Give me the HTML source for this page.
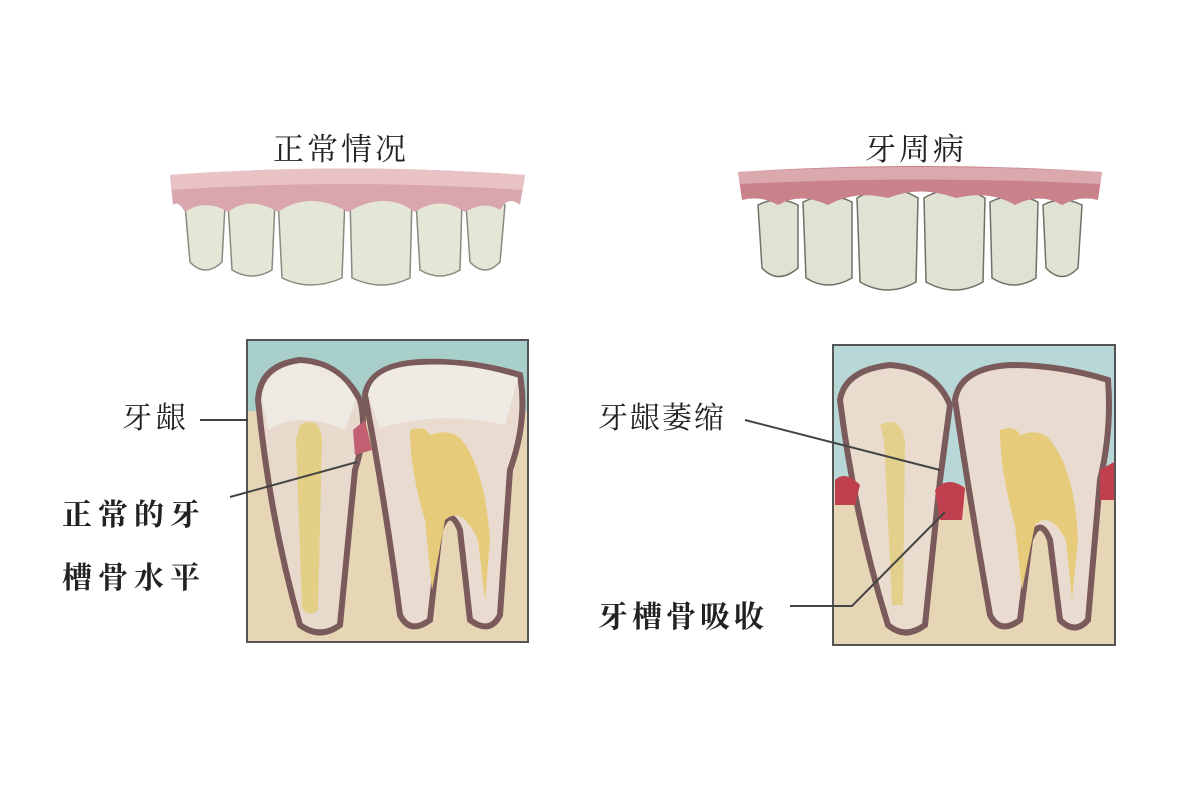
<!DOCTYPE html>
<html><head><meta charset="utf-8"><style>
html,body{margin:0;padding:0;background:#fff;width:1200px;height:800px;overflow:hidden}
text{font-family:"Liberation Serif","Noto Serif CJK SC",serif;fill:#222}
</style></head><body>
<svg width="1200" height="800" viewBox="0 0 1200 800" xmlns="http://www.w3.org/2000/svg">
<!-- titles -->
<text x="273" y="160" font-size="31" letter-spacing="3">正常情况</text>
<text x="865" y="160" font-size="31" letter-spacing="3">牙周病</text>

<!-- upper teeth left -->
<g fill="#e4e6d6" stroke="#8a8a80" stroke-width="1.5">
<path d="M185,205 Q205,195 225,205 L222,262 Q205,278 190,262Z"/>
<path d="M228,202 Q252,190 275,202 L272,270 Q252,282 232,270Z"/>
<path d="M278,198 Q310,180 345,198 L342,278 Q310,292 282,278Z"/>
<path d="M350,198 Q382,180 412,198 L410,278 Q382,292 352,278Z"/>
<path d="M416,202 Q440,190 462,202 L460,270 Q440,282 420,270Z"/>
<path d="M466,205 Q485,195 505,205 L500,262 Q485,278 470,262Z"/>
</g>
<path d="M170,175 Q345,162 525,175 L520,205 Q508,195 500,210 Q485,200 465,212 Q440,195 415,212 Q385,190 348,212 Q310,190 278,212 Q250,195 228,212 Q205,198 185,212 Q178,200 173,205Z" fill="#d9a6ad"/>
<path d="M170,175 Q345,162 525,175 L522,190 Q345,178 172,190Z" fill="#e8c2c4"/>

<!-- upper teeth right -->
<g fill="#e0e3d4" stroke="#707068" stroke-width="1.5">
<path d="M758,205 Q778,195 798,205 L798,268 Q778,285 762,268Z"/>
<path d="M803,202 Q828,190 852,202 L852,278 Q828,292 806,278Z"/>
<path d="M857,198 Q888,180 918,198 L916,282 Q888,298 860,282Z"/>
<path d="M924,198 Q955,180 985,198 L983,282 Q955,298 926,282Z"/>
<path d="M990,202 Q1014,190 1038,202 L1036,278 Q1014,292 992,278Z"/>
<path d="M1043,205 Q1062,195 1082,205 L1078,268 Q1062,285 1046,268Z"/>
</g>
<path d="M738,172 Q920,160 1102,172 L1098,200 Q1080,195 1062,205 Q1040,192 1015,205 Q990,190 956,198 Q920,185 888,198 Q855,190 828,205 Q800,192 778,205 Q760,195 742,200Z" fill="#c9828a"/>
<path d="M738,172 Q920,162 1102,172 L1100,184 Q920,175 740,184Z" fill="#dba8ae"/>

<!-- left box -->
<g>
<rect x="247" y="340" width="281" height="302" fill="#e6d6b6" stroke="#555" stroke-width="2"/>
<rect x="248" y="341" width="279" height="70" fill="#a9cfca"/>
<path d="M258,400 Q260,365 300,360 Q340,362 360,400 Q368,430 355,470 L340,625 Q320,640 300,625 Q270,520 258,400Z" fill="#e7d9cc" stroke="#7a5a5a" stroke-width="6"/>
<path d="M262,400 Q262,370 300,363 Q340,365 356,400 L345,430 Q300,410 268,430Z" fill="#eee9e2"/>
<path d="M300,425 Q320,415 322,440 L318,610 Q308,618 302,608 L296,440Z" fill="#e3cf86"/>
<path d="M365,395 Q370,365 420,362 Q470,360 520,375 Q528,420 510,470 L500,615 Q490,635 470,620 L460,530 Q450,505 440,530 L430,620 Q410,635 400,615 Q385,500 365,395Z" fill="#eadbd0" stroke="#7a5a5a" stroke-width="6"/>
<path d="M368,395 Q372,367 420,365 Q470,362 518,378 L505,425 Q440,410 380,428Z" fill="#efebe4"/>
<path d="M410,430 Q425,425 430,435 Q450,428 462,440 Q485,470 490,540 L485,600 L478,540 Q462,505 445,520 L432,590 L425,520 Q410,470 410,430Z" fill="#e6cc7a"/>
<path d="M353,430 L365,420 L372,450 L355,455Z" fill="#c06070"/>
</g>

<!-- right box -->
<g>
<rect x="833" y="345" width="282" height="300" fill="#e6d6b6" stroke="#555" stroke-width="2"/>
<rect x="834" y="346" width="280" height="140" fill="#b7d8d6"/>
<path d="M840,400 Q845,370 890,365 Q935,368 950,405 L940,480 L925,625 Q905,640 888,625 Q855,520 840,400Z" fill="#e9dccf" stroke="#7a5a5a" stroke-width="6"/>
<path d="M880,425 Q900,415 905,440 L903,605 L892,605 L884,440Z" fill="#e3d08c"/>
<path d="M955,400 Q960,368 1010,365 Q1060,365 1108,380 Q1112,430 1100,480 L1088,620 Q1075,635 1060,620 L1050,540 Q1040,515 1030,540 L1020,620 Q1000,635 990,615 Q970,500 955,400Z" fill="#eadbd0" stroke="#7a5a5a" stroke-width="6"/>
<path d="M1000,430 Q1015,425 1020,435 Q1040,428 1050,440 Q1075,470 1078,540 L1072,600 L1066,540 Q1050,510 1035,525 L1022,590 L1015,525 Q1000,470 1000,430Z" fill="#e6cc7a"/>
<path d="M835,480 Q845,470 860,485 L855,505 L835,505Z" fill="#c0404f"/>
<path d="M935,490 Q948,475 965,488 L962,520 L940,520Z" fill="#c0404f"/>
<path d="M1100,470 L1114,462 L1114,500 L1100,500Z" fill="#c0404f"/>
</g>

<!-- labels -->
<text x="122" y="428" font-size="30" letter-spacing="4">牙龈</text>
<line x1="200" y1="420" x2="248" y2="420" stroke="#444" stroke-width="2"/>
<text x="62" y="525" font-size="30" font-weight="bold" letter-spacing="6">正常的牙</text>
<text x="62" y="588" font-size="30" font-weight="bold" letter-spacing="6">槽骨水平</text>
<line x1="230" y1="497" x2="357" y2="462" stroke="#444" stroke-width="2"/>

<text x="598" y="428" font-size="30" letter-spacing="2">牙龈萎缩</text>
<line x1="745" y1="420" x2="940" y2="470" stroke="#444" stroke-width="2"/>
<text x="598" y="627" font-size="30" font-weight="bold" letter-spacing="4">牙槽骨吸收</text>
<polyline points="790,606 852,606 945,512" fill="none" stroke="#444" stroke-width="2"/>
</svg>
</body></html>
